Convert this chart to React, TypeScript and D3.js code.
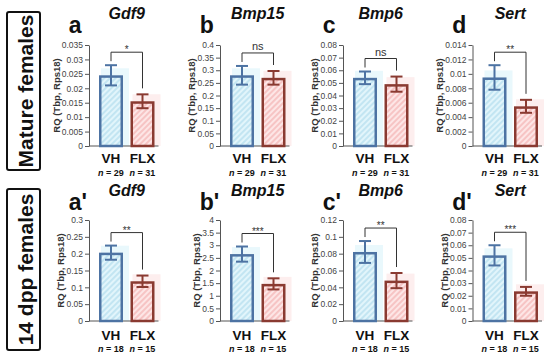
import { useEffect, useRef } from 'react';
import * as d3 from 'd3';

// values (mean, SEM) for VH / FLX
const genes = ['Gdf9', 'Bmp15', 'Bmp6', 'Sert'];
const groups = ['VH', 'FLX'];
const rowNames = ['Mature females', '14 dpp females'];
const letters = [['a', 'b', 'c', 'd'], ["a'", "b'", "c'", "d'"]];

const matureMean = [[0.0245, 0.0155], [0.28, 0.27], [0.054, 0.049], [0.0095, 0.0055]];
const matureSem = [[0.0035, 0.0024], [0.037, 0.027], [0.005, 0.006], [0.0017, 0.0009]];
const matureN = [29, 31];
const matureSig = ['*', 'ns', 'ns', '**'];
const matureTicks = [
  [0, 0.005, 0.01, 0.015, 0.02, 0.025, 0.03, 0.035],
  [0, 0.05, 0.1, 0.15, 0.2, 0.25, 0.3, 0.35, 0.4],
  [0, 0.01, 0.02, 0.03, 0.04, 0.05, 0.06, 0.07, 0.08],
  [0, 0.002, 0.004, 0.006, 0.008, 0.01, 0.012, 0.014],
];

const juvMean = [[0.203, 0.118], [2.65, 1.47], [0.082, 0.048], [0.052, 0.0235]];
const juvSem = [[0.021, 0.017], [0.3, 0.22], [0.013, 0.009], [0.008, 0.0035]];
const juvN = [18, 15];
const juvSig = ['**', '***', '**', '***'];
const juvTicks = [
  [0, 0.05, 0.1, 0.15, 0.2, 0.25, 0.3],
  [0, 0.5, 1, 1.5, 2, 2.5, 3, 3.5, 4],
  [0, 0.02, 0.04, 0.06, 0.08, 0.1, 0.12],
  [0, 0.01, 0.02, 0.03, 0.04, 0.05, 0.06, 0.07, 0.08],
];

const rows = [
  { mean: matureMean, sem: matureSem, n: matureN, sig: matureSig, ticks: matureTicks },
  { mean: juvMean, sem: juvSem, n: juvN, sig: juvSig, ticks: juvTicks },
];

const W = 550, H = 357;
const FONT = "'Liberation Sans', Arial, sans-serif";
const vhCenters = [111, 242, 365, 494.5];
const barW = 24, barStep = 31.5;
const layout = [
  { top: 45, bottom: 146, title: 19, letter: 33, label: 163, n: 176, box: [12, 170] },
  { top: 220, bottom: 321, title: 196, letter: 210, label: 340, n: 352, box: [189, 350] },
];
const colors = {
  VH: { stroke: '#4d73a3', fill: '#e2f5fb', hatch: '#a9d8ec', glow: '#e9f8fc' },
  FLX: { stroke: '#8a3a31', fill: '#fde6e6', hatch: '#f2a9a9', glow: '#fdeeee' },
} as Record<string, { stroke: string; fill: string; hatch: string; glow: string }>;

export default function App() {
  const ref = useRef<SVGSVGElement>(null);

  useEffect(() => {
    document.body.style.margin = '0';
    if (!ref.current) return;
    const svg = d3.select(ref.current);
    svg.selectAll('*').remove();

    const defs = svg.append('defs');
    groups.forEach(g => {
      const p = defs.append('pattern').attr('id', `hatch-${g}`)
        .attr('patternUnits', 'userSpaceOnUse').attr('width', 4).attr('height', 4)
        .attr('patternTransform', 'rotate(45)');
      p.append('rect').attr('width', 4).attr('height', 4).attr('fill', colors[g].fill);
      p.append('line').attr('x1', 1).attr('x2', 1).attr('y1', 0).attr('y2', 4)
        .attr('stroke', colors[g].hatch).attr('stroke-width', 1.1);
    });

    rows.forEach((row, ri) => {
      const L = layout[ri];

      // row label box
      svg.append('rect').attr('x', 7).attr('y', L.box[0]).attr('width', 33)
        .attr('height', L.box[1] - L.box[0]).attr('rx', 2)
        .attr('fill', 'white').attr('stroke', '#111').attr('stroke-width', 2);
      svg.append('text')
        .attr('transform', `translate(33,${(L.box[0] + L.box[1]) / 2}) rotate(-90)`)
        .attr('text-anchor', 'middle').attr('font-family', FONT).attr('font-weight', 700)
        .attr('font-size', 21).attr('fill', '#111').text(rowNames[ri]);

      genes.forEach((gene, gi) => {
        const c = vhCenters[gi];
        const mid = c + barStep / 2;
        const ticks = row.ticks[gi];
        const axisX = c - 22;
        const x = d3.scaleBand().domain(groups)
          .range([c - barW / 2, c - barW / 2 + barStep + barW])
          .paddingInner((barStep - barW) / barStep).paddingOuter(0);
        const y = d3.scaleLinear().domain([0, ticks[ticks.length - 1]]).range([L.bottom, L.top]);
        const vals = groups.map((g, i) => ({ g, m: row.mean[gi][i], s: row.sem[gi][i], n: row.n[i] }));
        const panel = svg.append('g');

        // title + letter
        panel.append('text').attr('x', mid).attr('y', L.title).attr('text-anchor', 'middle')
          .attr('font-family', FONT).attr('font-weight', 700).attr('font-style', 'italic')
          .attr('font-size', 16).attr('fill', '#111').text(gene);
        panel.append('text').attr('x', mid - 58).attr('y', L.letter)
          .attr('font-family', FONT).attr('font-weight', 700)
          .attr('font-size', 23).attr('fill', '#111').text(letters[ri][gi]);

        // y axis
        const axisG = panel.append('g').attr('transform', `translate(${axisX},0)`)
          .call(d3.axisLeft(y).tickValues(ticks).tickSize(4).tickSizeOuter(0).tickPadding(2)
            .tickFormat(d3.format('~g')));
        axisG.selectAll('text').attr('font-family', FONT).attr('font-size', 8.5).attr('fill', '#444');
        axisG.selectAll('line').attr('stroke', '#555');
        axisG.select('.domain').attr('stroke', '#555');
        const bb = (axisG.node() as SVGGElement).getBBox();

        panel.append('text')
          .attr('transform', `translate(${axisX + bb.x - 2},${(L.top + L.bottom) / 2}) rotate(-90)`)
          .attr('text-anchor', 'middle').attr('font-family', FONT).attr('font-weight', 700)
          .attr('font-size', 9.5).attr('fill', '#333').text('RQ (Tbp, Rps18)');

        // glow behind bars
        panel.selectAll('.glow').data(vals).enter().append('rect')
          .attr('x', d => (x(d.g) ?? 0) + 2).attr('width', x.bandwidth() + 4)
          .attr('y', d => y(d.m) - 7).attr('height', d => y(0) - y(d.m) + 7)
          .attr('fill', d => colors[d.g].glow);

        // x baseline
        panel.append('line').attr('x1', axisX).attr('x2', (x('FLX') ?? 0) + x.bandwidth() + 4)
          .attr('y1', y(0)).attr('y2', y(0)).attr('stroke', '#555');

        // bars
        panel.selectAll('.bar').data(vals).enter().append('rect')
          .attr('x', d => (x(d.g) ?? 0) + 1.25).attr('width', x.bandwidth() - 2.5)
          .attr('y', d => y(d.m) + 1.25).attr('height', d => y(0) - y(d.m) - 1.25)
          .attr('fill', d => `url(#hatch-${d.g})`)
          .attr('stroke', d => colors[d.g].stroke).attr('stroke-width', 2.5);

        // error bars
        vals.forEach(d => {
          const cx = (x(d.g) ?? 0) + x.bandwidth() / 2;
          const col = colors[d.g].stroke;
          panel.append('line').attr('x1', cx).attr('x2', cx)
            .attr('y1', y(d.m - d.s)).attr('y2', y(d.m + d.s)).attr('stroke', col).attr('stroke-width', 2);
          [d.m - d.s, d.m + d.s].forEach(v => {
            panel.append('line').attr('x1', cx - 6).attr('x2', cx + 6)
              .attr('y1', y(v)).attr('y2', y(v)).attr('stroke', col).attr('stroke-width', 2);
          });
        });

        // significance bracket
        const vhX = (x('VH') ?? 0) + x.bandwidth() / 2;
        const flxX = (x('FLX') ?? 0) + x.bandwidth() / 2;
        const vhTop = y(vals[0].m + vals[0].s);
        const flxTop = y(vals[1].m + vals[1].s);
        const by = Math.min(vhTop, flxTop) - 13;
        panel.append('path')
          .attr('d', `M${vhX},${vhTop - 4}V${by}H${flxX}V${flxTop - 6}`)
          .attr('fill', 'none').attr('stroke', '#333').attr('stroke-width', 1);
        const sig = row.sig[gi];
        panel.append('text').attr('x', (vhX + flxX) / 2).attr('y', sig === 'ns' ? by - 2.5 : by + 1)
          .attr('text-anchor', 'middle').attr('font-family', FONT)
          .attr('font-size', sig === 'ns' ? 11 : 10).attr('fill', '#333').text(sig);

        // group labels
        vals.forEach(d => {
          const cx = (x(d.g) ?? 0) + x.bandwidth() / 2;
          panel.append('text').attr('x', cx).attr('y', L.label).attr('text-anchor', 'middle')
            .attr('font-family', FONT).attr('font-weight', 700).attr('font-size', 13.5)
            .attr('fill', '#111').text(d.g);
          const t = panel.append('text').attr('x', cx).attr('y', L.n).attr('text-anchor', 'middle')
            .attr('font-family', FONT).attr('font-weight', 700).attr('font-size', 9).attr('fill', '#111');
          t.append('tspan').attr('font-style', 'italic').text('n');
          t.append('tspan').text(` = ${d.n}`);
        });
      });
    });
  }, []);

  return (
    <svg ref={ref} width={W} height={H} viewBox={`0 0 ${W} ${H}`}
      style={{ display: 'block', background: 'white' }} />
  );
}
